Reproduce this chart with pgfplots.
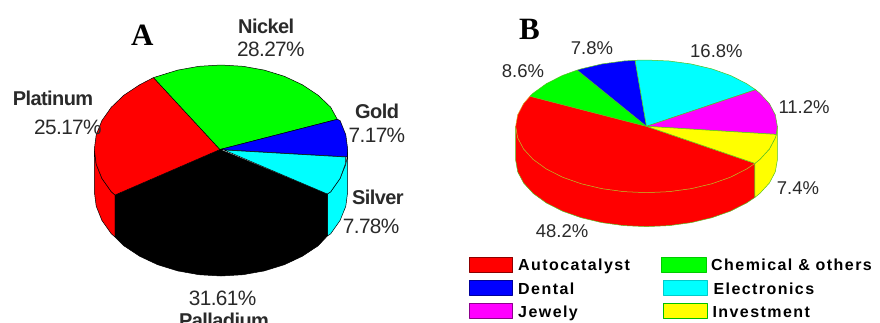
\documentclass[border=0pt]{standalone}
\usepackage{pgfplots}
\pgfplotsset{compat=1.18}
\usepackage{fontspec}
\setmainfont{Liberation Sans}
\newfontfamily\titlefont{Liberation Serif}
\newfontfamily\tightfont[LetterSpace=-3]{Liberation Sans}
\newfontfamily\spacedfont[LetterSpace=9]{Liberation Sans}
\definecolor{labelgrey}{HTML}{2A2A2A}
\definecolor{lime}{HTML}{00FF00}
\definecolor{pieblue}{HTML}{0000FF}
\definecolor{piecyan}{HTML}{00FFFF}
\definecolor{piemagenta}{HTML}{FF00FF}
\definecolor{pieyellow}{HTML}{FFFF00}
\definecolor{piered}{HTML}{FF0000}
\definecolor{rimgreen}{HTML}{55C020}
\definecolor{rimorange}{HTML}{D8A020}
\newcommand{\hdr}[2]{\fontsize{#1}{#1}\selectfont #2}
\tikzset{lbl/.style={anchor=base west, inner sep=0pt, text=labelgrey}}
\begin{document}
\begin{tikzpicture}
\useasboundingbox (0,0) rectangle (880pt,322pt);
\begin{axis}[
  at={(0,0)}, anchor=south west,
  scale only axis, width=880pt, height=322pt,
  xmin=0, xmax=880, ymin=0, ymax=322, y dir=reverse,
  hide axis, clip=true,
  every axis plot/.append style={line join=round},
]
% ---- Pie A: side walls
\addplot[fill=piered, draw=black, line width=.5pt] coordinates {
 (94.3,149.5)(96.2,164.2)(101.9,178.4)(111.3,191.75)(115,195)(115,237)
 (111.3,233.75)(101.9,220.4)(96.2,206.2)(94.3,191.5)} -- cycle;
\addplot[fill=piecyan, draw=black, line width=.5pt] coordinates {
 (347.7,149.5)(347.2,156.9)(345.8,164.2)(340.1,178.4)(330.7,191.75)(327.3,194)(327.3,236)
 (330.7,233.75)(340.1,220.4)(345.8,206.2)(347.7,191.5)} -- cycle;
% ---- Pie A: Palladium, top face and wall in one colour
\addplot[fill=black, draw=black, line width=.5pt] coordinates {
 (220,149.5)(115,195)(115,237)(123.9,245.8)(139.6,256.2)(157.65,264.7)(177.7,270.9)
 (199,274.7)(221,276)(243,274.7)(264.3,270.9)(284.35,264.7)(302.4,256.2)(318.1,245.8)
 (327.3,236)(327.3,194)} -- cycle;
% ---- Pie A: Platinum
\addplot[fill=piered, draw=black, line width=.5pt] coordinates {
 (220,149.5)(153.5,77.6)(139.6,84.8)(123.9,95.2)(111.3,107.25)(101.9,120.6)(96.2,134.8)
 (94.3,149.5)(96.2,164.2)(101.9,178.4)(111.3,191.75)(115,195)} -- cycle;
% ---- Pie A: Nickel
\addplot[fill=lime, draw=black, line width=.5pt] coordinates {
 (220,149.5)(337.3,119.3)(330.7,107.25)(318.1,95.2)(302.4,84.8)(284.35,76.3)(264.3,70.1)
 (243,66.3)(221,65)(199,66.3)(177.7,70.1)(157.65,76.3)(153.5,77.6)} -- cycle;
% ---- Pie A: Gold
\addplot[fill=pieblue, draw=black, line width=.5pt] coordinates {
 (220,149.5)(347.2,156.9)(347.7,149.5)(345.8,134.8)(340.1,120.6)(337.3,119.3)} -- cycle;
% ---- Pie A: Silver
\addplot[fill=piecyan, draw=black, line width=.5pt] coordinates {
 (224,150)(345.8,157)(345.3,164.2)(340.1,178.4)(330.7,191.75)(327.3,194)} -- cycle;

% ---- Pie B: side walls
\addplot[fill=piered, draw=rimgreen, line width=.5pt] coordinates {
 (515.7,126.3)(517.7,137.8)(523.6,149)(533.2,159.45)(546.3,168.9)(562.4,177.1)(581.1,183.7)
 (601.8,188.6)(623.8,191.6)(646.5,192.6)(669.2,191.6)(691.2,188.6)(711.9,183.7)(730.6,177.1)
 (746.7,168.9)(754.9,163.4)(754.9,197.4)(746.7,202.9)(730.6,211.1)(711.9,217.7)(691.2,222.6)
 (669.2,225.6)(646.5,226.6)(623.8,225.6)(601.8,222.6)(581.1,217.7)(562.4,211.1)(546.3,202.9)
 (533.2,193.45)(523.6,183)(517.7,171.8)(515.7,160.3)} -- cycle;
\addplot[fill=pieyellow, draw=rimgreen, line width=.5pt] coordinates {
 (777.3,126.3)(776.3,134.4)(775.3,137.8)(769.4,149)(759.8,159.45)(754.9,163.4)(754.9,197.4)
 (759.8,193.45)(769.4,183)(775.3,171.8)(777.3,160.3)} -- cycle;
% ---- Pie B: top face, Autocatalyst
\addplot[fill=piered, draw=rimorange, line width=.5pt] coordinates {
 (646.5,126.3)(530,96.2)(523.6,103.6)(517.7,114.8)(515.7,126.3)(517.7,137.8)(523.6,149)
 (533.2,159.45)(546.3,168.9)(562.4,177.1)(581.1,183.7)(601.8,188.6)(623.8,191.6)(646.5,192.6)
 (669.2,191.6)(691.2,188.6)(711.9,183.7)(730.6,177.1)(746.7,168.9)(754.9,163.4)} -- cycle;
% ---- Pie B: Chemical & others
\addplot[fill=lime, draw=rimgreen, line width=.5pt] coordinates {
 (646.5,126.3)(577.2,70.1)(562.4,75.5)(546.3,83.7)(533.2,93.15)(530,96.2)} -- cycle;
% ---- Pie B: Dental
\addplot[fill=pieblue, draw=rimgreen, line width=.5pt] coordinates {
 (646.5,126.3)(635.1,60.3)(623.8,61)(601.8,64)(581.1,68.9)(577.2,70.1)} -- cycle;
% ---- Pie B: Electronics
\addplot[fill=piecyan, draw=rimgreen, line width=.5pt] coordinates {
 (646.5,126.3)(755.6,89.7)(746.7,83.7)(730.6,75.5)(711.9,68.9)(691.2,64)(669.2,61)(646.5,60)(635.1,60.3)} -- cycle;
% ---- Pie B: Jewely
\addplot[fill=piemagenta, draw=rimgreen, line width=.5pt] coordinates {
 (646.5,126.3)(776.3,134.4)(777.3,126.3)(775.3,114.8)(769.4,103.6)(759.8,93.15)(755.6,89.7)} -- cycle;
% ---- Pie B: Investment
\addplot[fill=pieyellow, draw=rimgreen, line width=.5pt] coordinates {
 (646.5,126.3)(754.9,163.4)(759.8,159.45)(769.4,149)(775.3,137.8)(776.3,134.4)} -- cycle;

% ---- Legend swatches
\addplot[fill=piered, draw=piered!55!black, line width=1pt] coordinates {(469.5,257)(512.5,257)(512.5,272.5)(469.5,272.5)} -- cycle;
\addplot[fill=pieblue, draw=pieblue!60!black, line width=1pt] coordinates {(469.5,280)(512.5,280)(512.5,295)(469.5,295)} -- cycle;
\addplot[fill=piemagenta, draw=piemagenta!55!black, line width=1pt] coordinates {(469.5,303)(512.5,303)(512.5,318.5)(469.5,318.5)} -- cycle;
\addplot[fill=lime, draw=lime!80!black, line width=1pt] coordinates {(661.5,257)(706,257)(706,272.5)(661.5,272.5)} -- cycle;
\addplot[fill=piecyan, draw=piecyan!80!black, line width=1pt] coordinates {(663,280)(707,280)(707,295)(663,295)} -- cycle;
\addplot[fill=pieyellow, draw=lime!75!black, line width=1pt] coordinates {(663,303)(707,303)(707,318.5)(663,318.5)} -- cycle;

% ---- Panel letters
\node[lbl, text=black] at (axis cs:131,45) {\titlefont\bfseries\hdr{31}{A}};
\node[lbl, text=black] at (axis cs:519,39.3) {\titlefont\bfseries\hdr{31}{B}};
% ---- Labels of pie A
\node[lbl] at (axis cs:238,33) {\tightfont\bfseries\hdr{20}{Nickel}};
\node[lbl] at (axis cs:237,56) {\tightfont\hdr{20.8}{28.27\%}};
\node[lbl] at (axis cs:12.7,105) {\tightfont\bfseries\hdr{20}{Platinum}};
\node[lbl] at (axis cs:34,134) {\tightfont\hdr{20.8}{25.17\%}};
\node[lbl] at (axis cs:355,118) {\tightfont\bfseries\hdr{20}{Gold}};
\node[lbl] at (axis cs:348.5,142) {\tightfont\hdr{20.8}{7.17\%}};
\node[lbl] at (axis cs:352,204) {\tightfont\bfseries\hdr{20}{Silver}};
\node[lbl] at (axis cs:342.7,233) {\tightfont\hdr{20.8}{7.78\%}};
\node[lbl] at (axis cs:188.7,305) {\tightfont\hdr{20.8}{31.61\%}};
\node[lbl] at (axis cs:179,327.5) {\tightfont\bfseries\hdr{20}{Palladium}};
% ---- Labels of pie B
\node[lbl] at (axis cs:570.7,54) {\hdr{18.5}{7.8\%}};
\node[lbl] at (axis cs:690,57.7) {\hdr{18.5}{16.8\%}};
\node[lbl] at (axis cs:501.7,77.3) {\hdr{18.5}{8.6\%}};
\node[lbl] at (axis cs:778.3,113.3) {\hdr{18.5}{11.2\%}};
\node[lbl] at (axis cs:776.7,194) {\hdr{18.5}{7.4\%}};
\node[lbl] at (axis cs:535.7,237.7) {\hdr{18.5}{48.2\%}};
% ---- Legend text
\node[lbl, text=black] at (axis cs:518,270.7) {\spacedfont\bfseries\hdr{16}{Autocatalyst}};
\node[lbl, text=black] at (axis cs:518,294) {\spacedfont\bfseries\hdr{16}{Dental}};
\node[lbl, text=black] at (axis cs:518,317.3) {\spacedfont\bfseries\hdr{16}{Jewely}};
\node[lbl, text=black] at (axis cs:711,270.7) {\spacedfont\bfseries\hdr{16}{Chemical \& others}};
\node[lbl, text=black] at (axis cs:713.3,294) {\spacedfont\bfseries\hdr{16}{Electronics}};
\node[lbl, text=black] at (axis cs:712.3,317.3) {\spacedfont\bfseries\hdr{16}{Investment}};
\end{axis}
\end{tikzpicture}
\end{document}
